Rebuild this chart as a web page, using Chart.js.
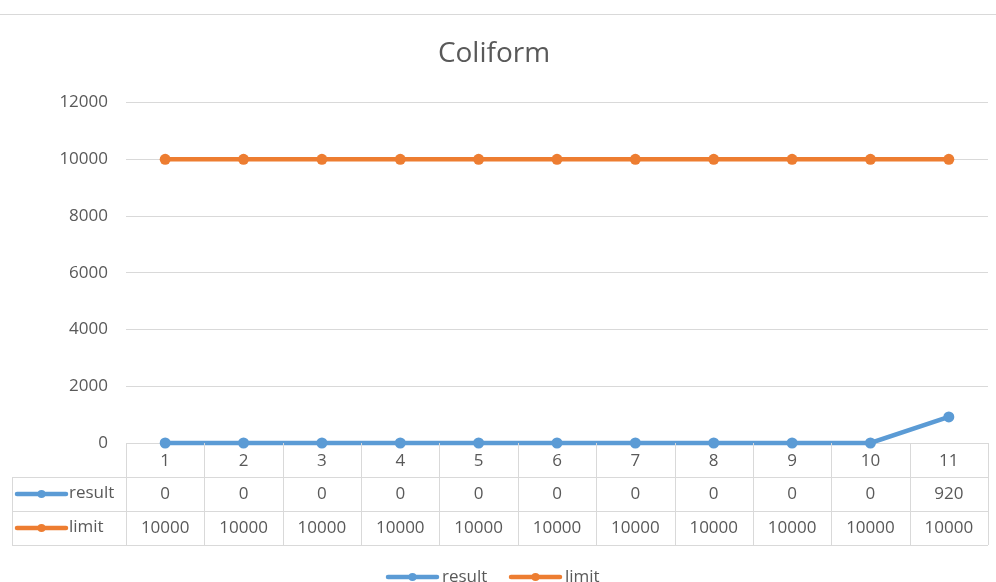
<!DOCTYPE html>
<html>
<head>
<meta charset="utf-8">
<title>Coliform</title>
<script src="https://cdn.jsdelivr.net/npm/chart.js@4.4.1/dist/chart.umd.min.js"></script>
<style>
  html, body { margin: 0; padding: 0; background: #fff; }
  #wrap { width: 996px; height: 582px; position: relative; }
</style>
</head>
<body>
<div id="wrap"><canvas id="chart"></canvas></div>
<script>
// Chart data
const samples = ["1", "2", "3", "4", "5", "6", "7", "8", "9", "10", "11"];
const resultValues = [0, 0, 0, 0, 0, 0, 0, 0, 0, 0, 920];
const limitValues = [10000, 10000, 10000, 10000, 10000, 10000, 10000, 10000, 10000, 10000, 10000];
const yTicks = [0, 2000, 4000, 6000, 8000, 10000, 12000];

const textColor = "#595959";
const gridColor = "#d9d9d9";
const fontFamily = "'Open Sans', 'Liberation Sans', sans-serif";

// Draws the data table under the plot and the bottom legend
const dataTablePlugin = {
  id: "dataTable",
  afterDraw(chart) {
    const { ctx, chartArea, scales } = chart;
    const x = scales.x;
    const step = x.getPixelForValue(1) - x.getPixelForValue(0);
    const top = chartArea.bottom;
    const rowH = 34;
    const tableLeft = 12;
    const rows = chart.data.datasets;

    ctx.save();
    ctx.strokeStyle = gridColor;
    ctx.lineWidth = 1;

    // outer chart border line at top
    ctx.beginPath();
    ctx.moveTo(0, 14.5);
    ctx.lineTo(996, 14.5);
    ctx.stroke();

    // horizontal lines
    ctx.beginPath();
    for (let r = 1; r <= rows.length + 1; r++) {
      const yy = Math.round(top + r * rowH) + 0.5;
      ctx.moveTo(tableLeft, yy);
      ctx.lineTo(chartArea.right, yy);
    }
    // vertical lines
    for (let i = 0; i <= samples.length; i++) {
      const xx = Math.round(x.getPixelForValue(0) - step / 2 + i * step) + 0.5;
      ctx.moveTo(xx, top);
      ctx.lineTo(xx, top + (rows.length + 1) * rowH);
    }
    ctx.moveTo(tableLeft + 0.5, top + rowH);
    ctx.lineTo(tableLeft + 0.5, top + (rows.length + 1) * rowH);
    ctx.stroke();

    ctx.fillStyle = textColor;
    ctx.font = "17px " + fontFamily;
    ctx.textAlign = "center";
    ctx.textBaseline = "middle";

    // header row with categories
    samples.forEach((s, i) => {
      ctx.fillText(s, x.getPixelForValue(i), top + rowH / 2 + 1);
    });

    // series rows
    rows.forEach((ds, r) => {
      const cy = top + (r + 1) * rowH + rowH / 2;
      ds.data.forEach((v, i) => {
        ctx.fillText(String(v), x.getPixelForValue(i), cy);
      });
      drawKey(ctx, 17, 66, cy, ds.borderColor);
      ctx.textAlign = "left";
      ctx.fillText(ds.label, 69, cy - 1);
      ctx.textAlign = "center";
    });

    // legend at bottom
    const legendX = [388, 511];
    const ly = 577;
    ctx.textAlign = "left";
    rows.forEach((ds, r) => {
      const lx = legendX[r];
      drawKey(ctx, lx, lx + 49, ly, ds.borderColor);
      ctx.fillStyle = textColor;
      ctx.fillText(ds.label, lx + 54, ly);
    });
    ctx.restore();
  }
};

function drawKey(ctx, x1, x2, y, color) {
  ctx.save();
  ctx.strokeStyle = color;
  ctx.fillStyle = color;
  ctx.lineWidth = 4.5;
  ctx.lineCap = "round";
  ctx.beginPath();
  ctx.moveTo(x1, y);
  ctx.lineTo(x2, y);
  ctx.stroke();
  ctx.beginPath();
  ctx.arc((x1 + x2) / 2, y, 4, 0, Math.PI * 2);
  ctx.fill();
  ctx.restore();
}

new Chart(document.getElementById("chart"), {
  type: "line",
  data: {
    labels: samples,
    datasets: [
      {
        label: "result",
        data: resultValues,
        borderColor: "#5b9bd5",
        backgroundColor: "#5b9bd5",
        borderWidth: 4.5,
        pointRadius: 5.5,
        pointHoverRadius: 5.5,
        pointBorderWidth: 0,
        clip: false,
      },
      {
        label: "limit",
        data: limitValues,
        borderColor: "#ed7d31",
        backgroundColor: "#ed7d31",
        borderWidth: 4.5,
        pointRadius: 5.5,
        pointHoverRadius: 5.5,
        pointBorderWidth: 0,
        clip: false,
      },
    ],
  },
  options: {
    responsive: true,
    maintainAspectRatio: false,
    animation: false,
    layout: {
      padding: { top: 0, right: 8, bottom: 139, left: 0 },
    },
    plugins: {
      legend: { display: false },
      tooltip: { enabled: false },
      title: {
        display: true,
        text: "Coliform",
        color: textColor,
        font: { family: fontFamily, size: 28, weight: "normal" },
        padding: { top: 37, bottom: 32 },
      },
    },
    scales: {
      x: {
        display: false,
        offset: true,
      },
      y: {
        min: 0,
        max: 12000,
        afterBuildTicks: (scale) => {
          scale.ticks = yTicks.map((v) => ({ value: v }));
        },
        afterFit: (scale) => {
          scale.width = 126;
        },
        border: { display: false },
        grid: { color: gridColor, drawTicks: false },
        ticks: {
          color: textColor,
          padding: 18,
          font: { family: fontFamily, size: 17 },
          callback: (value) => String(value),
        },
      },
    },
  },
  plugins: [dataTablePlugin],
});
</script>
</body>
</html>
